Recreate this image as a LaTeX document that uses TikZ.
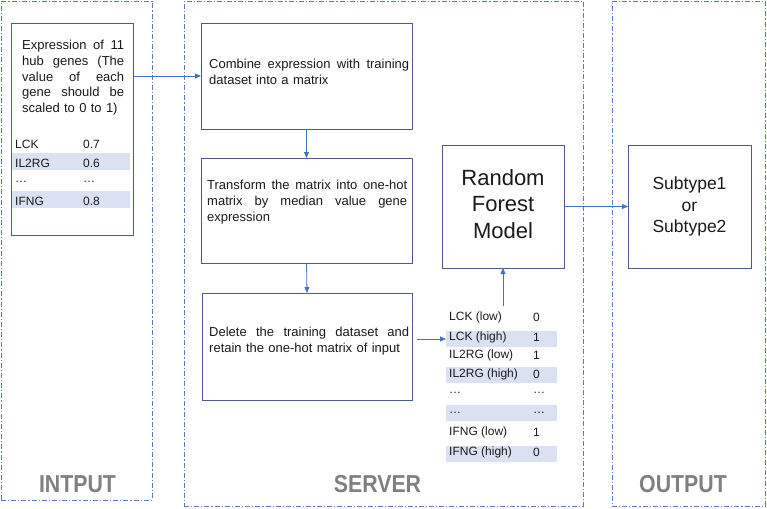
\documentclass[tikz,border=0pt]{standalone}
\usepackage{fontspec}
\setmainfont{Liberation Sans}
\usetikzlibrary{arrows.meta}
\definecolor{boxc}{HTML}{4A5D84}
\definecolor{arrc}{HTML}{4472C4}
\definecolor{panc}{HTML}{5A7BC4}
\definecolor{rowc}{HTML}{D9E1F2}
\definecolor{labc}{HTML}{808080}
\definecolor{txtc}{HTML}{1A1A1A}
\begin{document}
\begin{tikzpicture}[x=1pt,y=-1pt,
 box/.style={draw=boxc, line width=0.9pt, inner sep=0pt, outer sep=0pt},
 panel/.style={draw=panc, line width=0.8pt, dash pattern=on 5pt off 2pt on 1.2pt off 2pt, inner sep=0pt, outer sep=0pt},
 arr/.style={draw=arrc, line width=0.8pt, -{Triangle[length=6pt,width=5pt]}},
 body/.style={inner sep=0pt, anchor=north west, align=left, text=txtc, font=\fontsize{13}{15.7}\selectfont},
 cell/.style={inner sep=0pt, anchor=west, text=txtc, font=\fontsize{12}{14}\selectfont},
 rowband/.style={fill=rowc, draw=none, inner sep=0pt, outer sep=0pt},
 paneltitle/.style={font=\fontsize{24.5}{26}\selectfont\bfseries, text=labc, inner sep=0pt, xscale=0.87},
]
\useasboundingbox (0,0) rectangle (767,508);

% panels
\node[panel, minimum width=151, minimum height=499] (pin) at (76.5,250.5) {};
\node[panel, minimum width=399, minimum height=505] (psrv) at (383.5,253.5) {};
\node[panel, minimum width=153, minimum height=505] (pout) at (688.5,253.5) {};

\node[paneltitle] (tin) at (77.5,484) {INTPUT};
\node[paneltitle] (tsrv) at (377.5,484) {SERVER};
\node[paneltitle] (tout) at (683,484) {OUTPUT};

% input box
\node[rowband, minimum width=118, minimum height=17] (ib1) at (71,161.5) {};
\node[rowband, minimum width=118, minimum height=17] (ib2) at (71,199.5) {};
\node[box, minimum width=122, minimum height=212] (inbox) at (72,129) {};
\node[body, text width=102] (intext) at (22,40)
 {Expression\hfill of\hfill 11\\ hub\hfill genes\hfill (The\\ value\hfill of\hfill each\\ gene\hfill should\hfill be\\ scaled to 0 to 1)};
\node[cell] (ia1) at (15,144) {LCK};
\node[cell] (ib1t) at (83,144) {0.7};
\node[cell] (ia2) at (15,163) {IL2RG};
\node[cell] (ib2t) at (83,163) {0.6};
\node[cell] (ia3) at (15,182) {…};
\node[cell] (ib3t) at (83,182) {…};
\node[cell] (ia4) at (15,201) {IFNG};
\node[cell] (ib4t) at (83,201) {0.8};

% server boxes
\node[box, minimum width=211, minimum height=106] (comb) at (306.5,76) {};
\node[body, text width=200] (combt) at (209,59)
 {Combine\hfill expression\hfill with\hfill training\\ dataset into a matrix};
\node[box, minimum width=211, minimum height=105] (trans) at (306.5,210.5) {};
\node[body, text width=200] (transt) at (207,180)
 {Transform\hfill the\hfill matrix\hfill into\hfill one-hot\\ matrix\hfill by\hfill median\hfill value\hfill gene\\ expression};
\node[box, minimum width=210, minimum height=107] (del) at (307,346.5) {};
\node[body, text width=200] (delt) at (209,327)
 {Delete\hfill the\hfill training\hfill dataset\hfill and\\ retain the one-hot matrix of input};

\node[box, minimum width=122, minimum height=123] (rf) at (503,206.5) {};
\node[align=center, text=txtc, inner sep=0pt,
      font=\fontsize{22}{26.5}\selectfont] (rft) at (503,204) {Random\\ Forest\\ Model};

% one-hot table
\node[rowband, minimum width=111, minimum height=16] (ob1) at (501.5,339) {};
\node[rowband, minimum width=111, minimum height=16] (ob2) at (501.5,375) {};
\node[rowband, minimum width=111, minimum height=16] (ob3) at (501.5,413) {};
\node[rowband, minimum width=111, minimum height=16] (ob4) at (501.5,453.5) {};
\node[cell] (oa1) at (449,317) {LCK (low)};      \node[cell] (ov1) at (533,317) {0};
\node[cell] (oa2) at (449,337) {LCK (high)};     \node[cell] (ov2) at (533,337) {1};
\node[cell] (oa3) at (449,355.5) {IL2RG (low)};  \node[cell] (ov3) at (533,355.5) {1};
\node[cell] (oa4) at (449,374) {IL2RG (high)};   \node[cell] (ov4) at (533,374) {0};
\node[cell] (oa5) at (449,393) {…};              \node[cell] (ov5) at (533,393) {…};
\node[cell] (oa6) at (449,412.5) {…};            \node[cell] (ov6) at (533,412.5) {…};
\node[cell] (oa7) at (449,432) {IFNG (low)};     \node[cell] (ov7) at (533,432) {1};
\node[cell] (oa8) at (449,452.5) {IFNG (high)};  \node[cell] (ov8) at (533,452.5) {0};

% output
\node[box, minimum width=123, minimum height=123, align=center, text=txtc,
      font=\fontsize{17.5}{21.5}\selectfont] (sub) at (689.5,206.5) {Subtype1\\ or\\ Subtype2};

% connectors
\coordinate (tabin) at (446,339);
\coordinate (tabtop) at (503,306);
\draw[arr] (inbox.east |- comb.west) -- (comb.west);
\draw[arr] (comb.south) -- (trans.north);
\draw[arr] (trans.south) -- (del.north);
\draw[arr, shorten <=5pt] (del.east |- tabin) -- (tabin);
\draw[arr] (tabtop) -- (rf.south);
\draw[arr] (rf.east) -- (sub.west);
\end{tikzpicture}
\end{document}
